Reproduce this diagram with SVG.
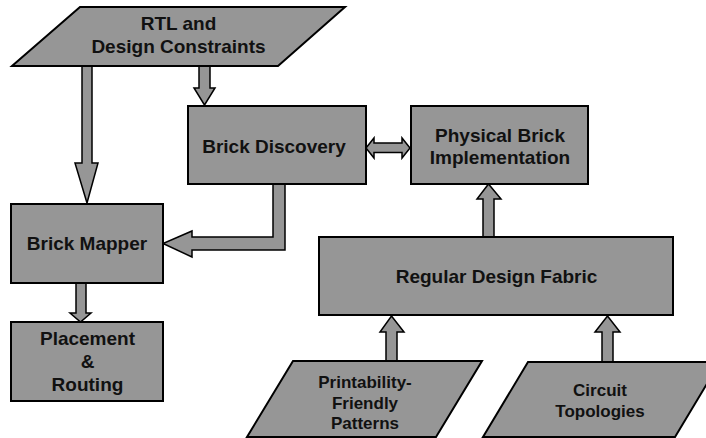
<svg xmlns="http://www.w3.org/2000/svg" width="706" height="438" viewBox="0 0 706 438">
<style>
.s{fill:#969696;stroke:#000;stroke-width:2;stroke-linejoin:miter}
.a{fill:#969696;stroke:#000;stroke-width:1.5;stroke-linejoin:miter}
.t{font-family:"Liberation Sans",Arial,sans-serif;font-weight:bold;font-size:19px;fill:#111;text-anchor:middle}
.t2{font-family:"Liberation Sans",Arial,sans-serif;font-weight:bold;font-size:17px;fill:#111;text-anchor:middle}
</style>
<rect width="706" height="438" fill="#fff"/>
<g id="connectors">
<polygon class="a" points="82,66 82,163 75,163 87,203 98,163 92,163 92,66"/>
<polygon class="a" points="199,66 199,88 194,88 204.5,105 215,88 210,88 210,66"/>
<polygon class="a" points="366,148 374,138 374,143 402,143 402,138 410,148 402,158 402,152.5 374,152.5 374,158"/>
<polygon class="a" points="483,237 483,199 477,199 488.5,184 501,199 494,199 494,237"/>
<polygon class="a" points="273,184 273,237 192,237 192,231 163,243.5 192,257 192,250 285,250 285,184"/>
<polygon class="a" points="76,283 76,313 70,313 80.5,322 91,313 86,313 86,283"/>
<polygon class="a" points="386,361 386,332 380,332 391.5,316 404,332 397,332 397,361"/>
<polygon class="a" points="602,362 602,332 595,332 607.5,316 620,332 613,332 613,362"/>
</g>
<g id="rtl">
<polygon class="s" points="80,7 345,7 278,66 12,66"/>
<text class="t" x="178.5" y="30">RTL and</text>
<text class="t" x="178.5" y="53">Design Constraints</text>
</g>
<g id="brick-discovery">
<rect class="s" x="188" y="106" width="178" height="78"/>
<text class="t" x="274" y="153">Brick Discovery</text>
</g>
<g id="physical-brick">
<rect class="s" x="411" y="106" width="177" height="78"/>
<text class="t" x="500" y="142">Physical Brick</text>
<text class="t" x="500" y="164">Implementation</text>
</g>
<g id="brick-mapper">
<rect class="s" x="11" y="204" width="152" height="79"/>
<text class="t" x="87" y="250">Brick Mapper</text>
</g>
<g id="placement">
<rect class="s" x="11" y="322" width="152" height="79"/>
<text class="t" x="87.5" y="345">Placement</text>
<text class="t" x="87.5" y="368">&amp;</text>
<text class="t" x="87.5" y="391">Routing</text>
</g>
<g id="regular-design-fabric">
<rect class="s" x="319" y="237" width="354" height="78"/>
<text class="t" x="496.5" y="283">Regular Design Fabric</text>
</g>
<g id="printability">
<polygon class="s" points="293,361 482,361 436,437 247,437"/>
<text class="t2" x="365" y="388">Printability-</text>
<text class="t2" x="365" y="409">Friendly</text>
<text class="t2" x="365" y="429">Patterns</text>
</g>
<g id="circuit">
<polygon class="s" points="528,362 720,362 675,437 483,437"/>
<text class="t2" x="600" y="396">Circuit</text>
<text class="t2" x="600" y="417">Topologies</text>
</g>
</svg>
